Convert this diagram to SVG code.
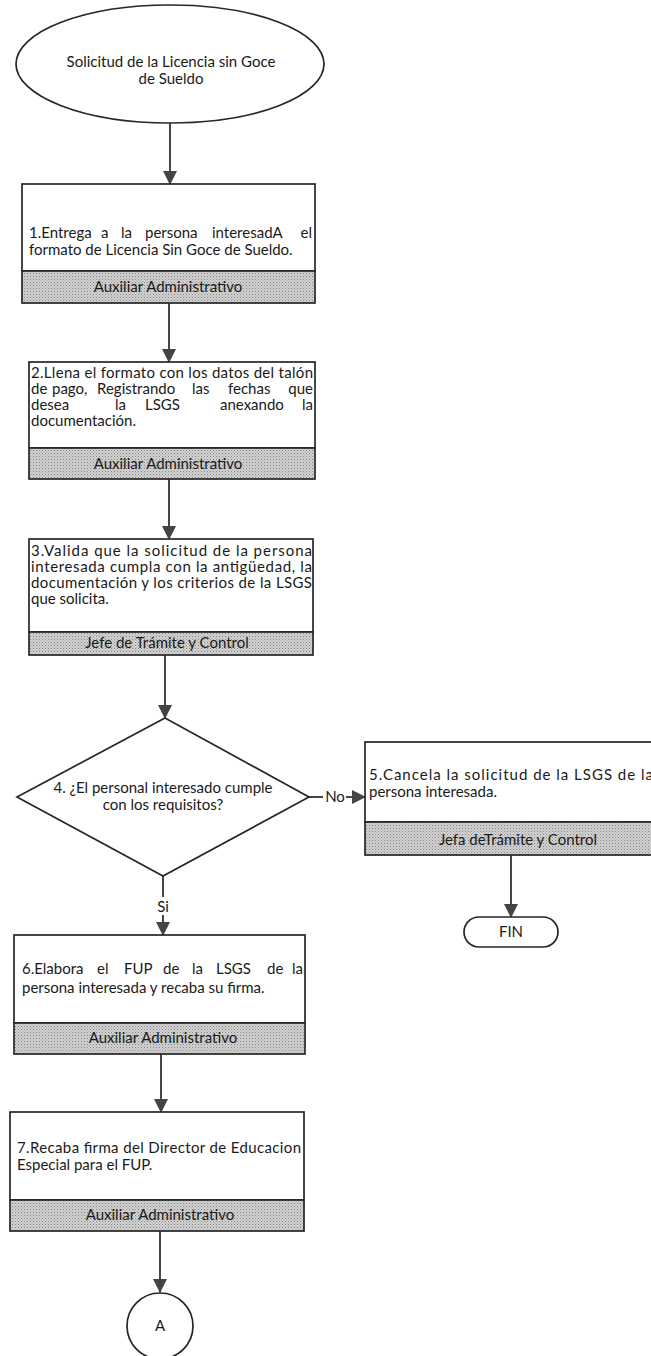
<svg xmlns="http://www.w3.org/2000/svg" width="651" height="1356" viewBox="0 0 651 1356">
<defs>
<pattern id="dots" width="3" height="3" patternUnits="userSpaceOnUse">
<rect width="3" height="3" fill="#d2d2d2"/>
<rect width="1" height="1" fill="#858585"/>
<rect x="1.5" y="1.5" width="1" height="1" fill="#a0a0a0"/>
</pattern>
<marker id="arr" markerUnits="userSpaceOnUse" markerWidth="14" markerHeight="15" refX="13" refY="7" orient="auto">
<path d="M0,0 L14,7 L0,14 Z" fill="#444"/>
</marker>
</defs>
<style>
.box{fill:#fff;stroke:#262626;stroke-width:1.7}
.band{fill:url(#dots);stroke:#262626;stroke-width:1.7}
.t{font-family:Lato,"Liberation Sans",sans-serif;font-size:15px;fill:#1a1a1a}
.c{text-anchor:middle}
.ln{stroke:#262626;stroke-width:1.7;fill:none}
</style>
<rect width="651" height="1356" fill="#fff"/>

<g id="connectors">
<line class="ln" x1="170" y1="123" x2="170" y2="184" marker-end="url(#arr)"/>
<line class="ln" x1="169" y1="303" x2="169" y2="362" marker-end="url(#arr)"/>
<line class="ln" x1="169" y1="479" x2="169" y2="539" marker-end="url(#arr)"/>
<line class="ln" x1="165" y1="655" x2="165" y2="718" marker-end="url(#arr)"/>
<line class="ln" x1="309" y1="797" x2="323" y2="797"/>
<line class="ln" x1="346" y1="797" x2="365" y2="797" marker-end="url(#arr)"/>
<text class="t c" x="335" y="802">No</text>
<line class="ln" x1="163" y1="876" x2="163" y2="897"/>
<text class="t c" x="163" y="912">Si</text>
<line class="ln" x1="163" y1="915" x2="163" y2="935" marker-end="url(#arr)"/>
<line class="ln" x1="511" y1="855" x2="511" y2="917" marker-end="url(#arr)"/>
<line class="ln" x1="161" y1="1054" x2="161" y2="1112" marker-end="url(#arr)"/>
<line class="ln" x1="160" y1="1231" x2="160" y2="1292" marker-end="url(#arr)"/>
</g>

<g id="start">
<ellipse class="box" cx="170" cy="64" rx="154" ry="59"/>
<text class="t c" x="171" y="67">Solicitud de la Licencia sin Goce</text>
<text class="t c" x="171" y="84">de Sueldo</text>
</g>

<g id="step1">
<rect class="box" x="22" y="184" width="293" height="87"/>
<rect class="band" x="22" y="271" width="293" height="32"/>
<text class="t" y="238"><tspan x="29">1.Entrega</tspan><tspan x="101">a</tspan><tspan x="121">la</tspan><tspan x="145">persona</tspan><tspan x="212">interesadA</tspan><tspan x="312" text-anchor="end">el</tspan></text>
<text class="t" x="29" y="255">formato de Licencia Sin Goce de Sueldo.</text>
<text class="t c" x="168" y="292">Auxiliar Administrativo</text>
</g>

<g id="step2">
<rect class="box" x="29" y="362" width="286" height="86"/>
<rect class="band" x="29" y="448" width="286" height="31"/>
<text class="t" x="31" y="378" textLength="282" lengthAdjust="spacing">2.Llena el formato con los datos del talón</text>
<text class="t" y="394"><tspan x="31">de</tspan><tspan x="52">pago,</tspan><tspan x="97">Registrando</tspan><tspan x="192">las</tspan><tspan x="228">fechas</tspan><tspan x="313" text-anchor="end">que</tspan></text>
<text class="t" y="410"><tspan x="31">desea</tspan><tspan x="115">la</tspan><tspan x="145">LSGS</tspan><tspan x="220">anexando</tspan><tspan x="313" text-anchor="end">la</tspan></text>
<text class="t" x="31" y="426">documentación.</text>
<text class="t c" x="168" y="469">Auxiliar Administrativo</text>
</g>

<g id="step3">
<rect class="box" x="29" y="539" width="284" height="93"/>
<rect class="band" x="29" y="632" width="284" height="23"/>
<text class="t" x="31" y="556" textLength="281" lengthAdjust="spacing">3.Valida que la solicitud de la persona</text>
<text class="t" x="31" y="572" textLength="281" lengthAdjust="spacing">interesada cumpla con la antigüedad, la</text>
<text class="t" x="31" y="588" textLength="281" lengthAdjust="spacing">documentación y los criterios de la LSGS</text>
<text class="t" x="31" y="604">que solicita.</text>
<text class="t c" x="167" y="648">Jefe de Trámite y Control</text>
</g>

<g id="decision4">
<polygon class="box" points="165,718 309,797 163,876 17,797"/>
<text class="t c" x="163" y="793">4. ¿El personal interesado cumple</text>
<text class="t c" x="163" y="810">con los requisitos?</text>
</g>

<g id="step5">
<rect class="box" x="365" y="742" width="300" height="80"/>
<rect class="band" x="365" y="822" width="300" height="33"/>
<text class="t" x="369" y="780" textLength="284" lengthAdjust="spacing">5.Cancela la solicitud de la LSGS de la</text>
<text class="t" x="369" y="797">persona interesada.</text>
<text class="t c" x="518" y="845">Jefa deTrámite y Control</text>
</g>

<g id="fin">
<rect class="box" x="464" y="917" width="94" height="30" rx="15" ry="15"/>
<text class="t c" x="511" y="937">FIN</text>
</g>

<g id="step6">
<rect class="box" x="14" y="935" width="291" height="88"/>
<rect class="band" x="14" y="1023" width="291" height="31"/>
<text class="t" y="974"><tspan x="22">6.Elabora</tspan><tspan x="97">el</tspan><tspan x="124">FUP</tspan><tspan x="163">de</tspan><tspan x="192">la</tspan><tspan x="216">LSGS</tspan><tspan x="267">de</tspan><tspan x="303" text-anchor="end">la</tspan></text>
<text class="t" x="22" y="993">persona interesada y recaba su firma.</text>
<text class="t c" x="163" y="1043">Auxiliar  Administrativo</text>
</g>

<g id="step7">
<rect class="box" x="10" y="1112" width="294" height="88"/>
<rect class="band" x="10" y="1200" width="294" height="31"/>
<text class="t" x="17" y="1153" textLength="284" lengthAdjust="spacing">7.Recaba firma del Director de Educacion</text>
<text class="t" x="17" y="1170">Especial para el FUP.</text>
<text class="t c" x="160" y="1220">Auxiliar Administrativo</text>
</g>

<g id="connectorA">
<circle class="box" cx="160" cy="1326" r="33"/>
<text class="t c" x="160" y="1331" style="font-size:15px">A</text>
</g>
</svg>
